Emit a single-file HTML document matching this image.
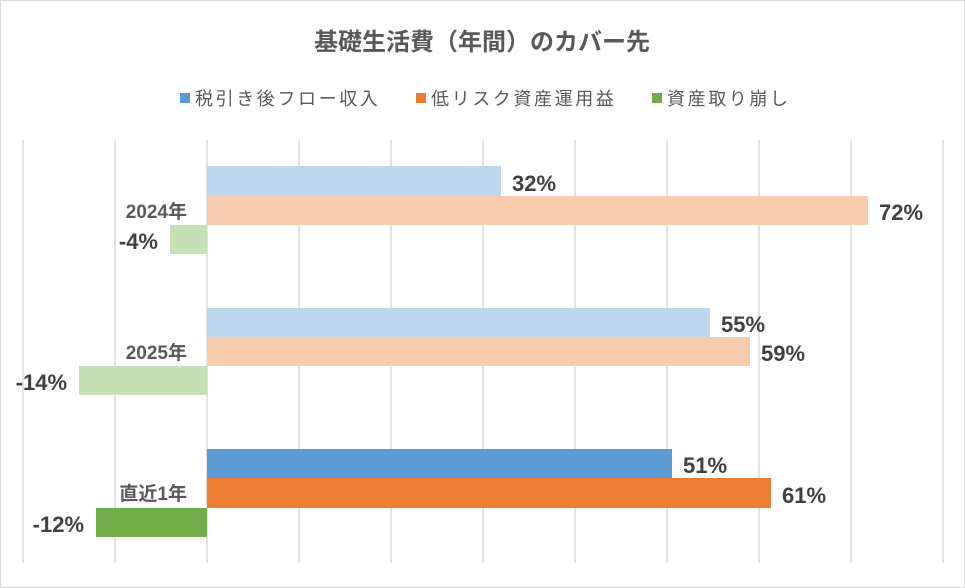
<!DOCTYPE html>
<html><head><meta charset="utf-8"><style>html,body{margin:0;padding:0;background:#fff}svg{display:block}</style></head><body>
<svg width="965" height="588" xmlns="http://www.w3.org/2000/svg" font-family="'Liberation Sans','Noto Sans CJK JP',sans-serif">
<rect x="0.5" y="0.5" width="964" height="587" fill="#fff" stroke="#d9d9d9"/>
<text x="482" y="50" text-anchor="middle" font-size="24" font-weight="bold" fill="#595959">基礎生活費（年間）のカバー先</text>
<g font-size="18" fill="#595959" letter-spacing="2.6">
<rect x="180" y="93" width="10" height="10" fill="#5b9bd5"/><text x="195" y="105">税引き後フロー収入</text>
<rect x="416" y="93" width="10" height="10" fill="#ed7d31"/><text x="431" y="105">低リスク資産運用益</text>
<rect x="652" y="93" width="10" height="10" fill="#70ad47"/><text x="667" y="105">資産取り崩し</text>
</g>
<g stroke="#d9d9d9" stroke-width="1.5">
<line x1="23" y1="140" x2="23" y2="563"/><line x1="115" y1="140" x2="115" y2="563"/><line x1="207" y1="140" x2="207" y2="563"/><line x1="299" y1="140" x2="299" y2="563"/><line x1="391" y1="140" x2="391" y2="563"/><line x1="483" y1="140" x2="483" y2="563"/><line x1="575" y1="140" x2="575" y2="563"/><line x1="667" y1="140" x2="667" y2="563"/><line x1="759" y1="140" x2="759" y2="563"/><line x1="851" y1="140" x2="851" y2="563"/><line x1="943" y1="140" x2="943" y2="563"/>
</g>
<rect x="207" y="166" width="294" height="30" fill="#bdd7ee"/>
<rect x="207" y="196" width="661" height="29" fill="#f8cbad"/>
<rect x="170" y="225" width="37" height="29" fill="#c5e0b4"/>
<rect x="207" y="308" width="503" height="29" fill="#bdd7ee"/>
<rect x="207" y="337" width="543" height="29" fill="#f8cbad"/>
<rect x="79" y="366" width="128" height="29" fill="#c5e0b4"/>
<rect x="207" y="449" width="465" height="29" fill="#5b9bd5"/>
<rect x="207" y="478" width="564" height="30" fill="#ed7d31"/>
<rect x="96" y="508" width="111" height="29" fill="#70ad47"/>
<g font-size="22" font-weight="bold" fill="#404040">
<text x="512" y="191">32%</text><text x="879" y="220">72%</text><text x="158" y="249" text-anchor="end">-4%</text>
<text x="721" y="332">55%</text><text x="761" y="361">59%</text><text x="67" y="390" text-anchor="end">-14%</text>
<text x="683" y="473">51%</text><text x="782" y="503">61%</text><text x="84" y="532" text-anchor="end">-12%</text>
</g>
<g font-size="19" font-weight="bold" fill="#595959" text-anchor="end">
<text x="187" y="218">2024年</text><text x="187" y="359">2025年</text><text x="187" y="500">直近1年</text>
</g>
</svg>
</body></html>
